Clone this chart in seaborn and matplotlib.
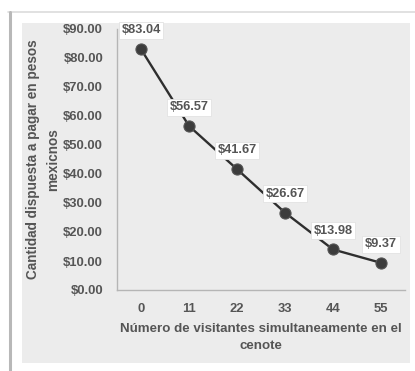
import matplotlib
matplotlib.use("Agg")
import matplotlib.pyplot as plt
import seaborn as sns
import pandas as pd
from matplotlib.patches import Rectangle
from matplotlib.lines import Line2D

# Willingness to pay vs. number of simultaneous visitors in the cenote
visitors = [0, 11, 22, 33, 44, 55]
price = [83.04, 56.57, 41.67, 26.67, 13.98, 9.37]
y_ticks = [0, 10, 20, 30, 40, 50, 60, 70, 80, 90]

x_title = "Número de visitantes simultaneamente en el\ncenote"
y_title = "Cantidad dispuesta a pagar en pesos\nmexicnos"

df = pd.DataFrame({"visitantes": visitors, "precio": price})

sns.set_theme(style="white")
plt.rcParams["font.family"] = ["Liberation Sans", "DejaVu Sans"]

txt = "#555555"
panel = "#ececec"

fig = plt.figure(figsize=(4.15, 3.71), dpi=100)
fig.patch.set_facecolor("white")

W, H = 415.0, 371.0
# outer frame lines and grey chart panel
fig.add_artist(Line2D([8 / W, 1.0], [1 - 11.5 / H, 1 - 11.5 / H], transform=fig.transFigure,
                      color="#dcdcdc", lw=1.2))
fig.add_artist(Line2D([9.5 / W, 9.5 / W], [0, 1 - 11.5 / H], transform=fig.transFigure,
                      color="#b8b8b8", lw=2.2))
fig.add_artist(Rectangle((22 / W, 1 - 363 / H), (410 - 22) / W, (363 - 23) / H,
                         transform=fig.transFigure, facecolor=panel, edgecolor="none", zorder=0))

ax = fig.add_axes([117 / W, 1 - 290 / H, (405 - 117) / W, (290 - 29) / H])
ax.set_facecolor(panel)

sns.lineplot(data=df, x="visitantes", y="precio", ax=ax, color="#2e2e2e", lw=1.7,
             marker="o", markersize=8, markerfacecolor="#3c3c3c",
             markeredgecolor="#555555", markeredgewidth=0.8, zorder=3)

ax.set_xlim(-5.5, 60.5)
ax.set_ylim(0, 90)
ax.set_xticks(visitors)
ax.set_xticklabels([str(v) for v in visitors])
ax.set_yticks(y_ticks)
ax.set_yticklabels([f"${v:.2f}" for v in y_ticks])

for side in ["top", "right"]:
    ax.spines[side].set_visible(False)
for side in ["left", "bottom"]:
    ax.spines[side].set_color("#b5b5b5")
    ax.spines[side].set_linewidth(1.0)

ax.tick_params(axis="both", length=0, colors=txt, labelsize=9.4)
ax.tick_params(axis="y", pad=10)
ax.tick_params(axis="x", pad=9)
for lab in ax.get_xticklabels() + ax.get_yticklabels():
    lab.set_fontweight("bold")
    lab.set_color(txt)

ax.set_xlabel(x_title, fontsize=9.6, fontweight="bold", color=txt, linespacing=1.6, labelpad=6)
ax.set_ylabel(y_title, fontsize=9.8, fontweight="bold", color=txt, linespacing=1.5, va="center")
ax.yaxis.set_label_coords((43 - 117) / 288.0, 0.5)

for x, y in zip(visitors, price):
    ax.annotate(f"${y:.2f}", xy=(x, y), xytext=(0, 13.5), textcoords="offset points",
                ha="center", va="center", fontsize=9.2, fontweight="bold", color=txt,
                bbox=dict(boxstyle="square,pad=0.2", facecolor="white", edgecolor="#e2e2e2", lw=0.6),
                zorder=5)

fig.savefig("out.png", dpi=100, facecolor="white")
